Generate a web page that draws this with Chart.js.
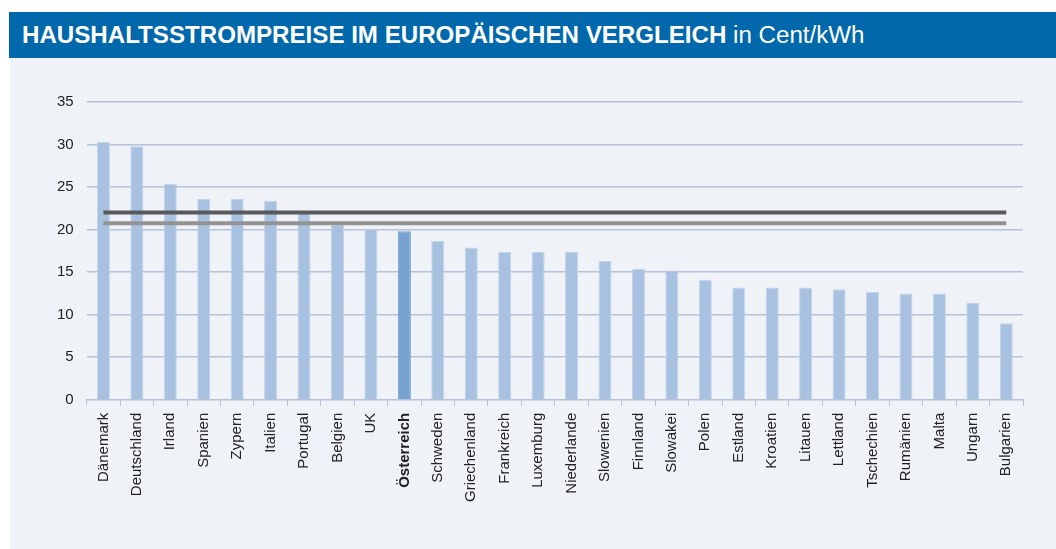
<!DOCTYPE html>
<html>
<head>
<meta charset="utf-8">
<script src="https://cdn.jsdelivr.net/npm/chart.js@4"></script>
<style>
  html, body { margin: 0; padding: 0; background: #fff; }
  body { width: 1056px; height: 549px; position: relative; overflow: hidden; font-family: "Liberation Sans", Arial, sans-serif; }
  #header {
    position: absolute; left: 9px; top: 12px; right: 0; height: 46px;
    background: #0068ab; color: #fff;
  }
  #title {
    position: absolute; left: 13px; top: 9px; font-size: 23px; line-height: 28px;
    white-space: nowrap; transform-origin: 0 0;
  }
  #title b { font-weight: bold; }
  #panel { position: absolute; left: 10px; top: 58px; right: 0; bottom: 0; background: #eff3f8; }
  #wrap { position: absolute; left: 10px; top: 80px; width: 1046px; height: 429px; }
</style>
</head>
<body>
<div id="header"><div id="title"><b>HAUSHALTSSTROMPREISE IM EUROPÄISCHEN VERGLEICH</b> in Cent/kWh</div></div>
<div id="panel"></div>
<div id="wrap"><canvas id="chart"></canvas></div>
<script>
// Länder, sortiert nach Preis
const countries = ['Dänemark', 'Deutschland', 'Irland', 'Spanien', 'Zypern', 'Italien', 'Portugal', 'Belgien', 'UK',
  'Österreich', 'Schweden', 'Griechenland', 'Frankreich', 'Luxemburg', 'Niederlande', 'Slowenien', 'Finnland',
  'Slowakei', 'Polen', 'Estland', 'Kroatien', 'Litauen', 'Lettland', 'Tschechien', 'Rumänien', 'Malta', 'Ungarn', 'Bulgarien'];

// Preise in Cent/kWh
const prices = [30.3, 29.8, 25.4, 23.6, 23.6, 23.4, 22.0, 20.6, 20.1,
  19.8, 18.7, 17.9, 17.4, 17.4, 17.4, 16.3, 15.4,
  15.2, 14.1, 13.2, 13.2, 13.2, 13.0, 12.7, 12.5, 12.5, 11.4, 9.0];

// die beiden Durchschnittslinien
const avgDark = countries.map(() => 22.0);
const avgLight = countries.map(() => 20.75);

const yTicks = [0, 5, 10, 15, 20, 25, 30, 35];
const highlight = 'Österreich';

// Titel auf Originalbreite bringen
const title = document.getElementById('title');
const targetWidth = 864 - 22;
title.style.transform = 'scaleX(' + (targetWidth / title.offsetWidth) + ')';

const ctx = document.getElementById('chart').getContext('2d');
new Chart(ctx, {
  type: 'bar',
  data: {
    labels: countries,
    datasets: [
      {
        type: 'line',
        data: avgDark,
        borderColor: '#58595b',
        borderWidth: 4,
        pointRadius: 0,
        fill: false,
        order: 0
      },
      {
        type: 'line',
        data: avgLight,
        borderColor: '#939393',
        borderWidth: 4,
        pointRadius: 0,
        fill: false,
        order: 1
      },
      {
        data: prices,
        backgroundColor: countries.map(c => c === highlight ? '#78a3d1' : '#a9c1e0'),
        borderColor: countries.map(c => c === highlight ? '#78a3d1' : '#c3d3ea'),
        borderWidth: { top: 1, left: 1, right: 1, bottom: 0 },
        categoryPercentage: 1,
        barPercentage: 0.39,
        order: 2
      }
    ]
  },
  options: {
    responsive: true,
    maintainAspectRatio: false,
    animation: false,
    layout: { padding: { left: 34, right: 33, top: 4, bottom: 0 } },
    plugins: {
      legend: { display: false },
      tooltip: { enabled: false }
    },
    scales: {
      x: {
        grid: {
          display: true,
          drawOnChartArea: false,
          drawTicks: true,
          tickLength: 6,
          color: '#b5c2d8',
          offset: true
        },
        border: { color: '#b5c2d8', width: 1 },
        ticks: {
          maxRotation: 90,
          minRotation: 90,
          autoSkip: false,
          padding: 7,
          color: '#222',
          font: c => ({
            family: '"Liberation Sans", Arial, sans-serif',
            size: 15,
            weight: countries[c.index] === highlight ? 'bold' : 'normal'
          })
        }
      },
      y: {
        min: 0,
        max: 35,
        afterBuildTicks: axis => { axis.ticks = yTicks.map(v => ({ value: v })); },
        grid: { color: '#b5c2d8', lineWidth: 1.5, drawTicks: false },
        border: { display: false },
        ticks: {
          padding: 13,
          color: '#222',
          font: { family: '"Liberation Sans", Arial, sans-serif', size: 15 }
        }
      }
    }
  }
});
</script>
</body>
</html>
